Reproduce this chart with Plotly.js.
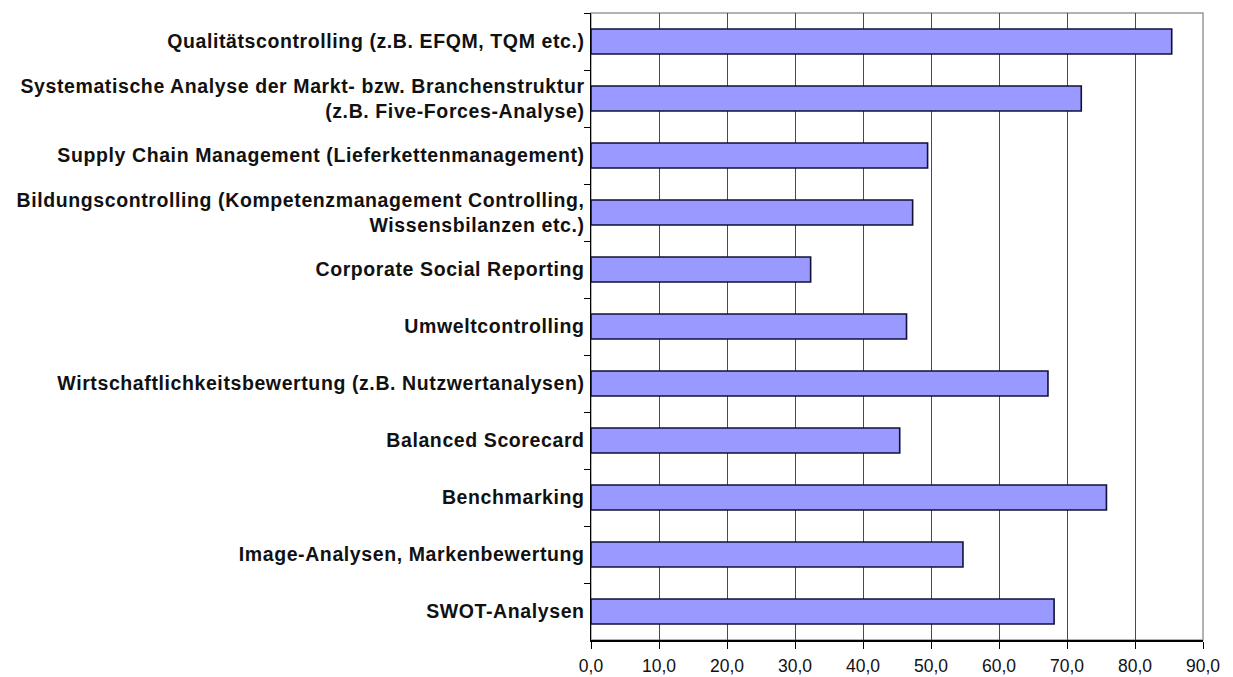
<!DOCTYPE html>
<html>
<head>
<meta charset="utf-8">
<script src="https://cdn.plot.ly/plotly-3.0.1.min.js"></script>
<style>
html,body{margin:0;padding:0;background:#fff;}
#chart{width:1233px;height:677px;}
#chart .ytick text{letter-spacing:0.6px;}
</style>
</head>
<body>
<div id="chart"></div>
<script>
const categories = [
  "Qualitätscontrolling (z.B. EFQM, TQM etc.)",
  "Systematische Analyse der Markt- bzw. Branchenstruktur<br>(z.B. Five-Forces-Analyse)",
  "Supply Chain Management (Lieferkettenmanagement)",
  "Bildungscontrolling (Kompetenzmanagement Controlling,<br>Wissensbilanzen etc.)",
  "Corporate Social Reporting",
  "Umweltcontrolling",
  "Wirtschaftlichkeitsbewertung (z.B. Nutzwertanalysen)",
  "Balanced Scorecard",
  "Benchmarking",
  "Image-Analysen, Markenbewertung",
  "SWOT-Analysen"
];
const values = [85.4, 72.1, 49.5, 47.3, 32.3, 46.4, 67.2, 45.4, 75.8, 54.7, 68.1];
const xTicks = [0, 10, 20, 30, 40, 50, 60, 70, 80, 90];

const trace = {
  type: "bar",
  orientation: "h",
  y: categories,
  x: values,
  width: 0.44,
  marker: { color: "#9999FF", line: { color: "#10103a", width: 1.6 } },
  hoverinfo: "x+y"
};

const layout = {
  width: 1233, height: 677,
  margin: { l: 591, r: 30, t: 13, b: 37 },
  paper_bgcolor: "#ffffff",
  plot_bgcolor: "#ffffff",
  separators: ", ",
  showlegend: false,
  xaxis: {
    range: [0, 90],
    tickvals: xTicks,
    tickformat: ".1f",
    showgrid: true,
    gridcolor: "#4a4a4a",
    gridwidth: 1,
    zeroline: false,
    showline: true,
    linecolor: "#000",
    linewidth: 1.5,
    ticks: "outside",
    ticklen: 7,
    tickcolor: "#000",
    ticklabelstandoff: 2,
    tickfont: { family: "Liberation Sans, Arial, sans-serif", size: 17.5, color: "#111" }
  },
  yaxis: {
    type: "category",
    categoryorder: "array",
    categoryarray: categories,
    autorange: "reversed",
    showgrid: false,
    zeroline: false,
    showline: true,
    linecolor: "#000",
    linewidth: 1.5,
    ticks: "outside",
    tickson: "boundaries",
    ticklen: 6,
    tickcolor: "#000",
    ticklabelstandoff: 1,
    tickfont: { family: "Liberation Sans, Arial, sans-serif", size: 19.5, color: "#111", weight: "bold" }
  },
  shapes: [{
    type: "rect", xref: "paper", yref: "paper", x0: 0, x1: 1, y0: 0, y1: 1,
    line: { color: "#999", width: 1.5 }, layer: "below"
  }],
  bargap: 0.56
};

Plotly.newPlot("chart", [trace], layout, { displayModeBar: false, staticPlot: true });
</script>
</body>
</html>
